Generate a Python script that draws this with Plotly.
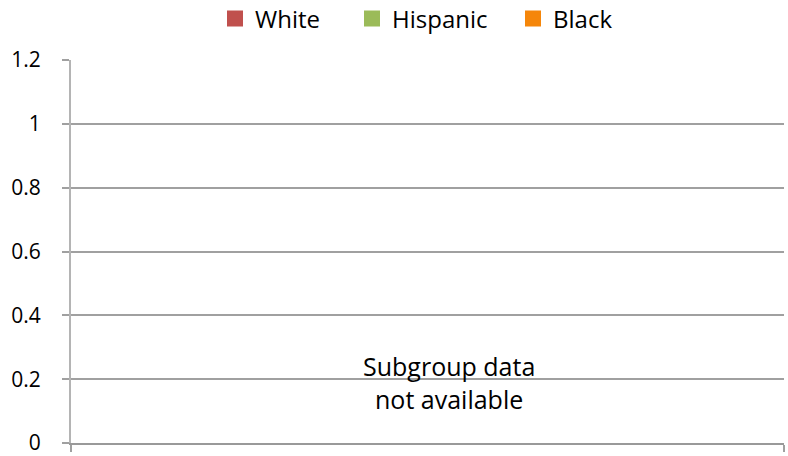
import plotly.graph_objects as go

categories = [0.5]
series_names = ["White", "Hispanic", "Black"]
series_colors = ["#C0504D", "#9BBB59", "#F5860A"]
white_values = [None]
hispanic_values = [None]
black_values = [None]
series_values = [white_values, hispanic_values, black_values]
y_ticks = [0, 0.2, 0.4, 0.6, 0.8, 1, 1.2]
y_tick_labels = ["0", "0.2", "0.4", "0.6", "0.8", "1", "1.2"]
note_text = "Subgroup data<br>not available"

FONT = "Open Sans"
legend_ids = ["legend", "legend2", "legend3"]
legend_left_px = [229, 366, 527]

fig = go.Figure()
for name, color, vals, lid in zip(series_names, series_colors, series_values, legend_ids):
    fig.add_trace(go.Bar(x=categories, y=vals, name=name, marker_color=color,
                         marker_line=dict(color=color, width=4),
                         showlegend=True, legend=lid))

fig.add_annotation(x=0.53, y=0.19, xref="paper", yref="y", text=note_text,
                   showarrow=False, font=dict(family=FONT, size=25, color="#000000"),
                   align="center")

legend_common = dict(orientation="h", xref="container", yref="container",
                     xanchor="left", yanchor="middle", y=1 - 19 / 456,
                     font=dict(family=FONT, size=24, color="#000000"),
                     itemwidth=30, bgcolor="rgba(0,0,0,0)")

fig.update_layout(
    width=788, height=456,
    margin=dict(l=71, r=4, t=60, b=13, autoexpand=False),
    paper_bgcolor="white", plot_bgcolor="white",
    font=dict(family=FONT, size=21, color="#000000"),
    showlegend=True,
    bargap=0.3,
)
for lid, px in zip(legend_ids, legend_left_px):
    fig.update_layout({lid: dict(legend_common, x=(px - 14) / 788)})

fig.update_xaxes(range=[0, 1], tickvals=[0, 1], showticklabels=False,
                 ticks="outside", ticklen=7, tickcolor="#a0a0a0", tickwidth=2,
                 showgrid=False, showline=True, linecolor="#999999", linewidth=2,
                 zeroline=False, automargin=False)
fig.update_yaxes(range=[0, 1.2], tickvals=y_ticks, ticktext=y_tick_labels,
                 ticks="outside", ticklen=7, tickcolor="#a0a0a0", tickwidth=1.5,
                 showgrid=True, gridcolor="#a0a0a0", gridwidth=1.5,
                 showline=True, linecolor="#b4b4b4", linewidth=2,
                 zeroline=False, ticklabelstandoff=17, automargin=False,
                 ticklabeloverflow="allow",
                 tickfont=dict(family=FONT, size=21, color="#000000"))

fig.write_html("out.html", config={"displayModeBar": False},
               post_script="document.body.style.margin='0';document.body.style.overflow='hidden';")
